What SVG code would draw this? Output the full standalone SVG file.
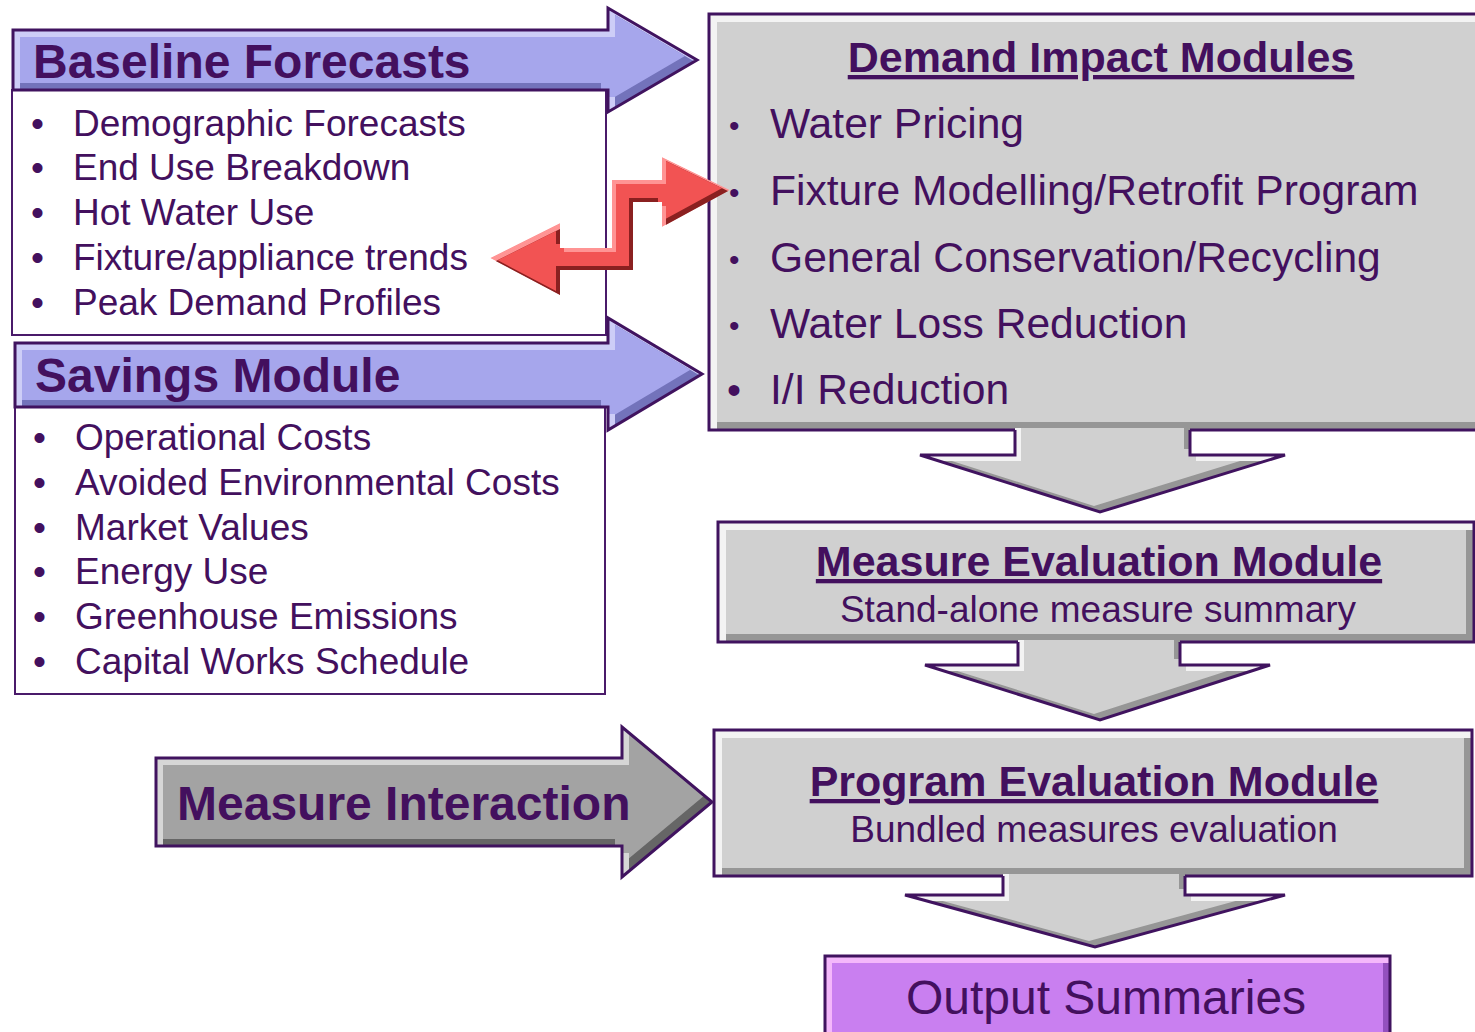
<svg xmlns="http://www.w3.org/2000/svg" width="1475" height="1032" viewBox="0 0 1475 1032">
  <style>
    .txt { font-family: "Liberation Sans", Arial, sans-serif; fill: #43105e; }
    .head { font-size: 48px; font-weight: bold; }
    .item { font-size: 37px; }
    .ditem { font-size: 42.6px; }
    .mod { font-size: 43px; font-weight: bold; text-decoration: underline; }
    .out { font-size: 48px; }
    .listbox { fill: #ffffff; stroke: #4a1a6a; stroke-width: 2; }
    .edge { fill: none; stroke: #40135f; stroke-width: 3; stroke-linejoin: miter; }
    .blue-lt { fill: #cdcdf7; } .blue-dk { fill: #7373bb; } .blue-mn { fill: #a6a6ec; }
    .gray-lt { fill: #f3f3f3; } .gray-dk { fill: #969696; } .gray-mn { fill: #d0d0d0; }
    .mid-lt { fill: #d6d6d6; } .mid-dk { fill: #666666; } .mid-mn { fill: #a3a3a3; }
    .vio-lt { fill: #f4b8fb; } .vio-dk { fill: #9350be; } .vio-mn { fill: #c97ff0; }
    .red-lt { fill: #ff9494; } .red-dk { fill: #8a2020; } .red-mn { fill: #f25353; }
  </style>
  <defs>
    <!-- outline shapes -->
    <path id="sBase" d="M13,30 H608 V8 L697,60 L608,112 V90 H13 Z"/>
    <path id="sSav" d="M15,343 H608 V318 L702,374 L608,430 V407 H15 Z"/>
    <path id="sMI" d="M156,758 H622 V727 L712,802 L622,877 V846 H156 Z"/>
    <path id="sDem" d="M709,14 H1520 V430 H709 Z"/>
    <path id="sMeas" d="M718,522 H1474 V642 H718 Z"/>
    <path id="sProg" d="M714,730 H1472 V876 H714 Z"/>
    <path id="sOut" d="M825,956 H1390 V1045 H825 Z"/>
    <!-- down arrows: extended (for bevel tests) and visible shapes -->
    <path id="sD1x" d="M1015,370 H1190 V455 H1285 L1100,512 L920,455 H1015 Z"/>
    <path id="sD1" d="M1015,428 H1190 V455 H1285 L1100,512 L920,455 H1015 Z"/>
    <path id="sD2x" d="M1018,580 H1180 V665 H1270 L1100,720 L925,665 H1018 Z"/>
    <path id="sD2" d="M1018,640 H1180 V665 H1270 L1100,720 L925,665 H1018 Z"/>
    <path id="sD3x" d="M1003,815 H1185 V895 H1285 L1095,947 L905,895 H1003 Z"/>
    <path id="sD3" d="M1003,874 H1185 V895 H1285 L1095,947 L905,895 H1003 Z"/>
    <path id="sRed" d="M490,258 L560,223 V248 H612 V180 H662 V157 L730,190 L662,227 V202 H633 V270 H560 V295 Z"/>

    <clipPath id="cBase"><use href="#sBase"/></clipPath>
    <clipPath id="pBase"><use href="#sBase" transform="translate(7,7)"/></clipPath>
    <clipPath id="cSav"><use href="#sSav"/></clipPath>
    <clipPath id="pSav"><use href="#sSav" transform="translate(7,7)"/></clipPath>
    <clipPath id="cMI"><use href="#sMI"/></clipPath>
    <clipPath id="pMI"><use href="#sMI" transform="translate(7,7)"/></clipPath>
    <clipPath id="cDem"><use href="#sDem"/></clipPath>
    <clipPath id="pDem"><use href="#sDem" transform="translate(8,8)"/></clipPath>
    <clipPath id="cMeas"><use href="#sMeas"/></clipPath>
    <clipPath id="pMeas"><use href="#sMeas" transform="translate(8,8)"/></clipPath>
    <clipPath id="cProg"><use href="#sProg"/></clipPath>
    <clipPath id="pProg"><use href="#sProg" transform="translate(8,8)"/></clipPath>
    <clipPath id="cOut"><use href="#sOut"/></clipPath>
    <clipPath id="pOut"><use href="#sOut" transform="translate(7,7)"/></clipPath>
    <clipPath id="cD1"><use href="#sD1"/></clipPath>
    <clipPath id="pD1"><use href="#sD1x" transform="translate(6,6)"/></clipPath>
    <clipPath id="cD2"><use href="#sD2"/></clipPath>
    <clipPath id="pD2"><use href="#sD2x" transform="translate(6,6)"/></clipPath>
    <clipPath id="cD3"><use href="#sD3"/></clipPath>
    <clipPath id="pD3"><use href="#sD3x" transform="translate(6,6)"/></clipPath>
    <clipPath id="cRed"><use href="#sRed"/></clipPath>
    <clipPath id="pRed"><use href="#sRed" transform="translate(4,4)"/></clipPath>
  </defs>

  <rect x="0" y="0" width="1475" height="1032" fill="#ffffff"/>

  <!-- left lists -->
  <g id="baseline-list">
    <rect class="listbox" x="12" y="90" width="594" height="245"/>
    <g class="txt item">
      <text x="31" y="136">•</text><text x="73" y="136">Demographic Forecasts</text>
      <text x="31" y="180">•</text><text x="73" y="180">End Use Breakdown</text>
      <text x="31" y="225">•</text><text x="73" y="225">Hot Water Use</text>
      <text x="31" y="270">•</text><text x="73" y="270">Fixture/appliance trends</text>
      <text x="31" y="315">•</text><text x="73" y="315">Peak Demand Profiles</text>
    </g>
  </g>

  <g id="savings-list">
    <rect class="listbox" x="15" y="407" width="590" height="287"/>
    <g class="txt item">
      <text x="33" y="450">•</text><text x="75" y="450">Operational Costs</text>
      <text x="33" y="495">•</text><text x="75" y="495">Avoided Environmental Costs</text>
      <text x="33" y="540">•</text><text x="75" y="540">Market Values</text>
      <text x="33" y="584">•</text><text x="75" y="584">Energy Use</text>
      <text x="33" y="629">•</text><text x="75" y="629">Greenhouse Emissions</text>
      <text x="33" y="674">•</text><text x="75" y="674">Capital Works Schedule</text>
    </g>
  </g>

  <!-- title arrows -->
  <g id="baseline-forecasts">
    <g clip-path="url(#cBase)">
      <use href="#sBase" class="blue-lt"/>
      <use href="#sBase" class="blue-dk" transform="translate(7,7)"/>
      <g clip-path="url(#pBase)"><use href="#sBase" class="blue-mn" transform="translate(-7,-7)"/></g>
    </g>
    <use href="#sBase" class="edge"/>
    <text class="txt head" x="33" y="78">Baseline Forecasts</text>
  </g>

  <g id="savings-module">
    <g clip-path="url(#cSav)">
      <use href="#sSav" class="blue-lt"/>
      <use href="#sSav" class="blue-dk" transform="translate(7,7)"/>
      <g clip-path="url(#pSav)"><use href="#sSav" class="blue-mn" transform="translate(-7,-7)"/></g>
    </g>
    <use href="#sSav" class="edge"/>
    <text class="txt head" x="35" y="392">Savings Module</text>
  </g>

  <g id="measure-interaction">
    <g clip-path="url(#cMI)">
      <use href="#sMI" class="mid-lt"/>
      <use href="#sMI" class="mid-dk" transform="translate(7,7)"/>
      <g clip-path="url(#pMI)"><use href="#sMI" class="mid-mn" transform="translate(-7,-7)"/></g>
    </g>
    <use href="#sMI" class="edge"/>
    <text class="txt head" x="177" y="820">Measure Interaction</text>
  </g>

  <!-- module boxes -->
  <g id="demand-impact-modules">
    <g clip-path="url(#cDem)">
      <use href="#sDem" class="gray-lt"/>
      <use href="#sDem" class="gray-dk" transform="translate(8,8)"/>
      <g clip-path="url(#pDem)"><use href="#sDem" class="gray-mn" transform="translate(-8,-8)"/></g>
    </g>
    <use href="#sDem" class="edge"/>
    <text class="txt mod" x="1101" y="72" text-anchor="middle">Demand Impact Modules</text>
    <g class="txt ditem">
      <text x="729" y="136" font-size="30">•</text><text x="770" y="138">Water Pricing</text>
      <text x="729" y="203" font-size="30">•</text><text x="770" y="205">Fixture Modelling/Retrofit Program</text>
      <text x="729" y="270" font-size="30">•</text><text x="770" y="272">General Conservation/Recycling</text>
      <text x="729" y="336" font-size="30">•</text><text x="770" y="338">Water Loss Reduction</text>
      <text x="727" y="404" font-size="40">•</text><text x="770" y="404">I/I Reduction</text>
    </g>
  </g>

  <g id="measure-evaluation-module">
    <g clip-path="url(#cMeas)">
      <use href="#sMeas" class="gray-lt"/>
      <use href="#sMeas" class="gray-dk" transform="translate(8,8)"/>
      <g clip-path="url(#pMeas)"><use href="#sMeas" class="gray-mn" transform="translate(-8,-8)"/></g>
    </g>
    <use href="#sMeas" class="edge"/>
    <text class="txt mod" x="1099" y="576" text-anchor="middle">Measure Evaluation Module</text>
    <text class="txt item" x="1098" y="622" text-anchor="middle">Stand-alone measure summary</text>
  </g>

  <g id="program-evaluation-module">
    <g clip-path="url(#cProg)">
      <use href="#sProg" class="gray-lt"/>
      <use href="#sProg" class="gray-dk" transform="translate(8,8)"/>
      <g clip-path="url(#pProg)"><use href="#sProg" class="gray-mn" transform="translate(-8,-8)"/></g>
    </g>
    <use href="#sProg" class="edge"/>
    <text class="txt mod" x="1094" y="796" text-anchor="middle">Program Evaluation Module</text>
    <text class="txt item" x="1094" y="842" text-anchor="middle">Bundled measures evaluation</text>
  </g>

  <g id="output-summaries">
    <g clip-path="url(#cOut)">
      <use href="#sOut" class="vio-lt"/>
      <use href="#sOut" class="vio-dk" transform="translate(7,7)"/>
      <g clip-path="url(#pOut)"><use href="#sOut" class="vio-mn" transform="translate(-7,-7)"/></g>
    </g>
    <use href="#sOut" class="edge"/>
    <text class="txt out" x="1106" y="1014" text-anchor="middle">Output Summaries</text>
  </g>

  <!-- connectors -->
  <g id="connectors">
    <g id="flow-demand-to-measure">
      <g clip-path="url(#cD1)">
        <use href="#sD1x" class="gray-lt"/>
        <use href="#sD1x" class="gray-dk" transform="translate(6,6)"/>
        <g clip-path="url(#pD1)"><use href="#sD1x" class="gray-mn" transform="translate(-6,-6)"/></g>
      </g>
      <path class="edge" d="M1015,430 V455 H920 L1100,512 L1285,455 H1190 V430"/>
    </g>
    <g id="flow-measure-to-program">
      <g clip-path="url(#cD2)">
        <use href="#sD2x" class="gray-lt"/>
        <use href="#sD2x" class="gray-dk" transform="translate(6,6)"/>
        <g clip-path="url(#pD2)"><use href="#sD2x" class="gray-mn" transform="translate(-6,-6)"/></g>
      </g>
      <path class="edge" d="M1018,642 V665 H925 L1100,720 L1270,665 H1180 V642"/>
    </g>
    <g id="flow-program-to-output">
      <g clip-path="url(#cD3)">
        <use href="#sD3x" class="gray-lt"/>
        <use href="#sD3x" class="gray-dk" transform="translate(6,6)"/>
        <g clip-path="url(#pD3)"><use href="#sD3x" class="gray-mn" transform="translate(-6,-6)"/></g>
      </g>
      <path class="edge" d="M1003,876 V895 H905 L1095,947 L1285,895 H1185 V876"/>
    </g>
    <g id="link-fixture-trends">
      <g clip-path="url(#cRed)">
        <use href="#sRed" class="red-lt"/>
        <use href="#sRed" class="red-dk" transform="translate(4,4)"/>
        <g clip-path="url(#pRed)"><use href="#sRed" class="red-mn" transform="translate(-4,-4)"/></g>
      </g>
    </g>
  </g>
</svg>
